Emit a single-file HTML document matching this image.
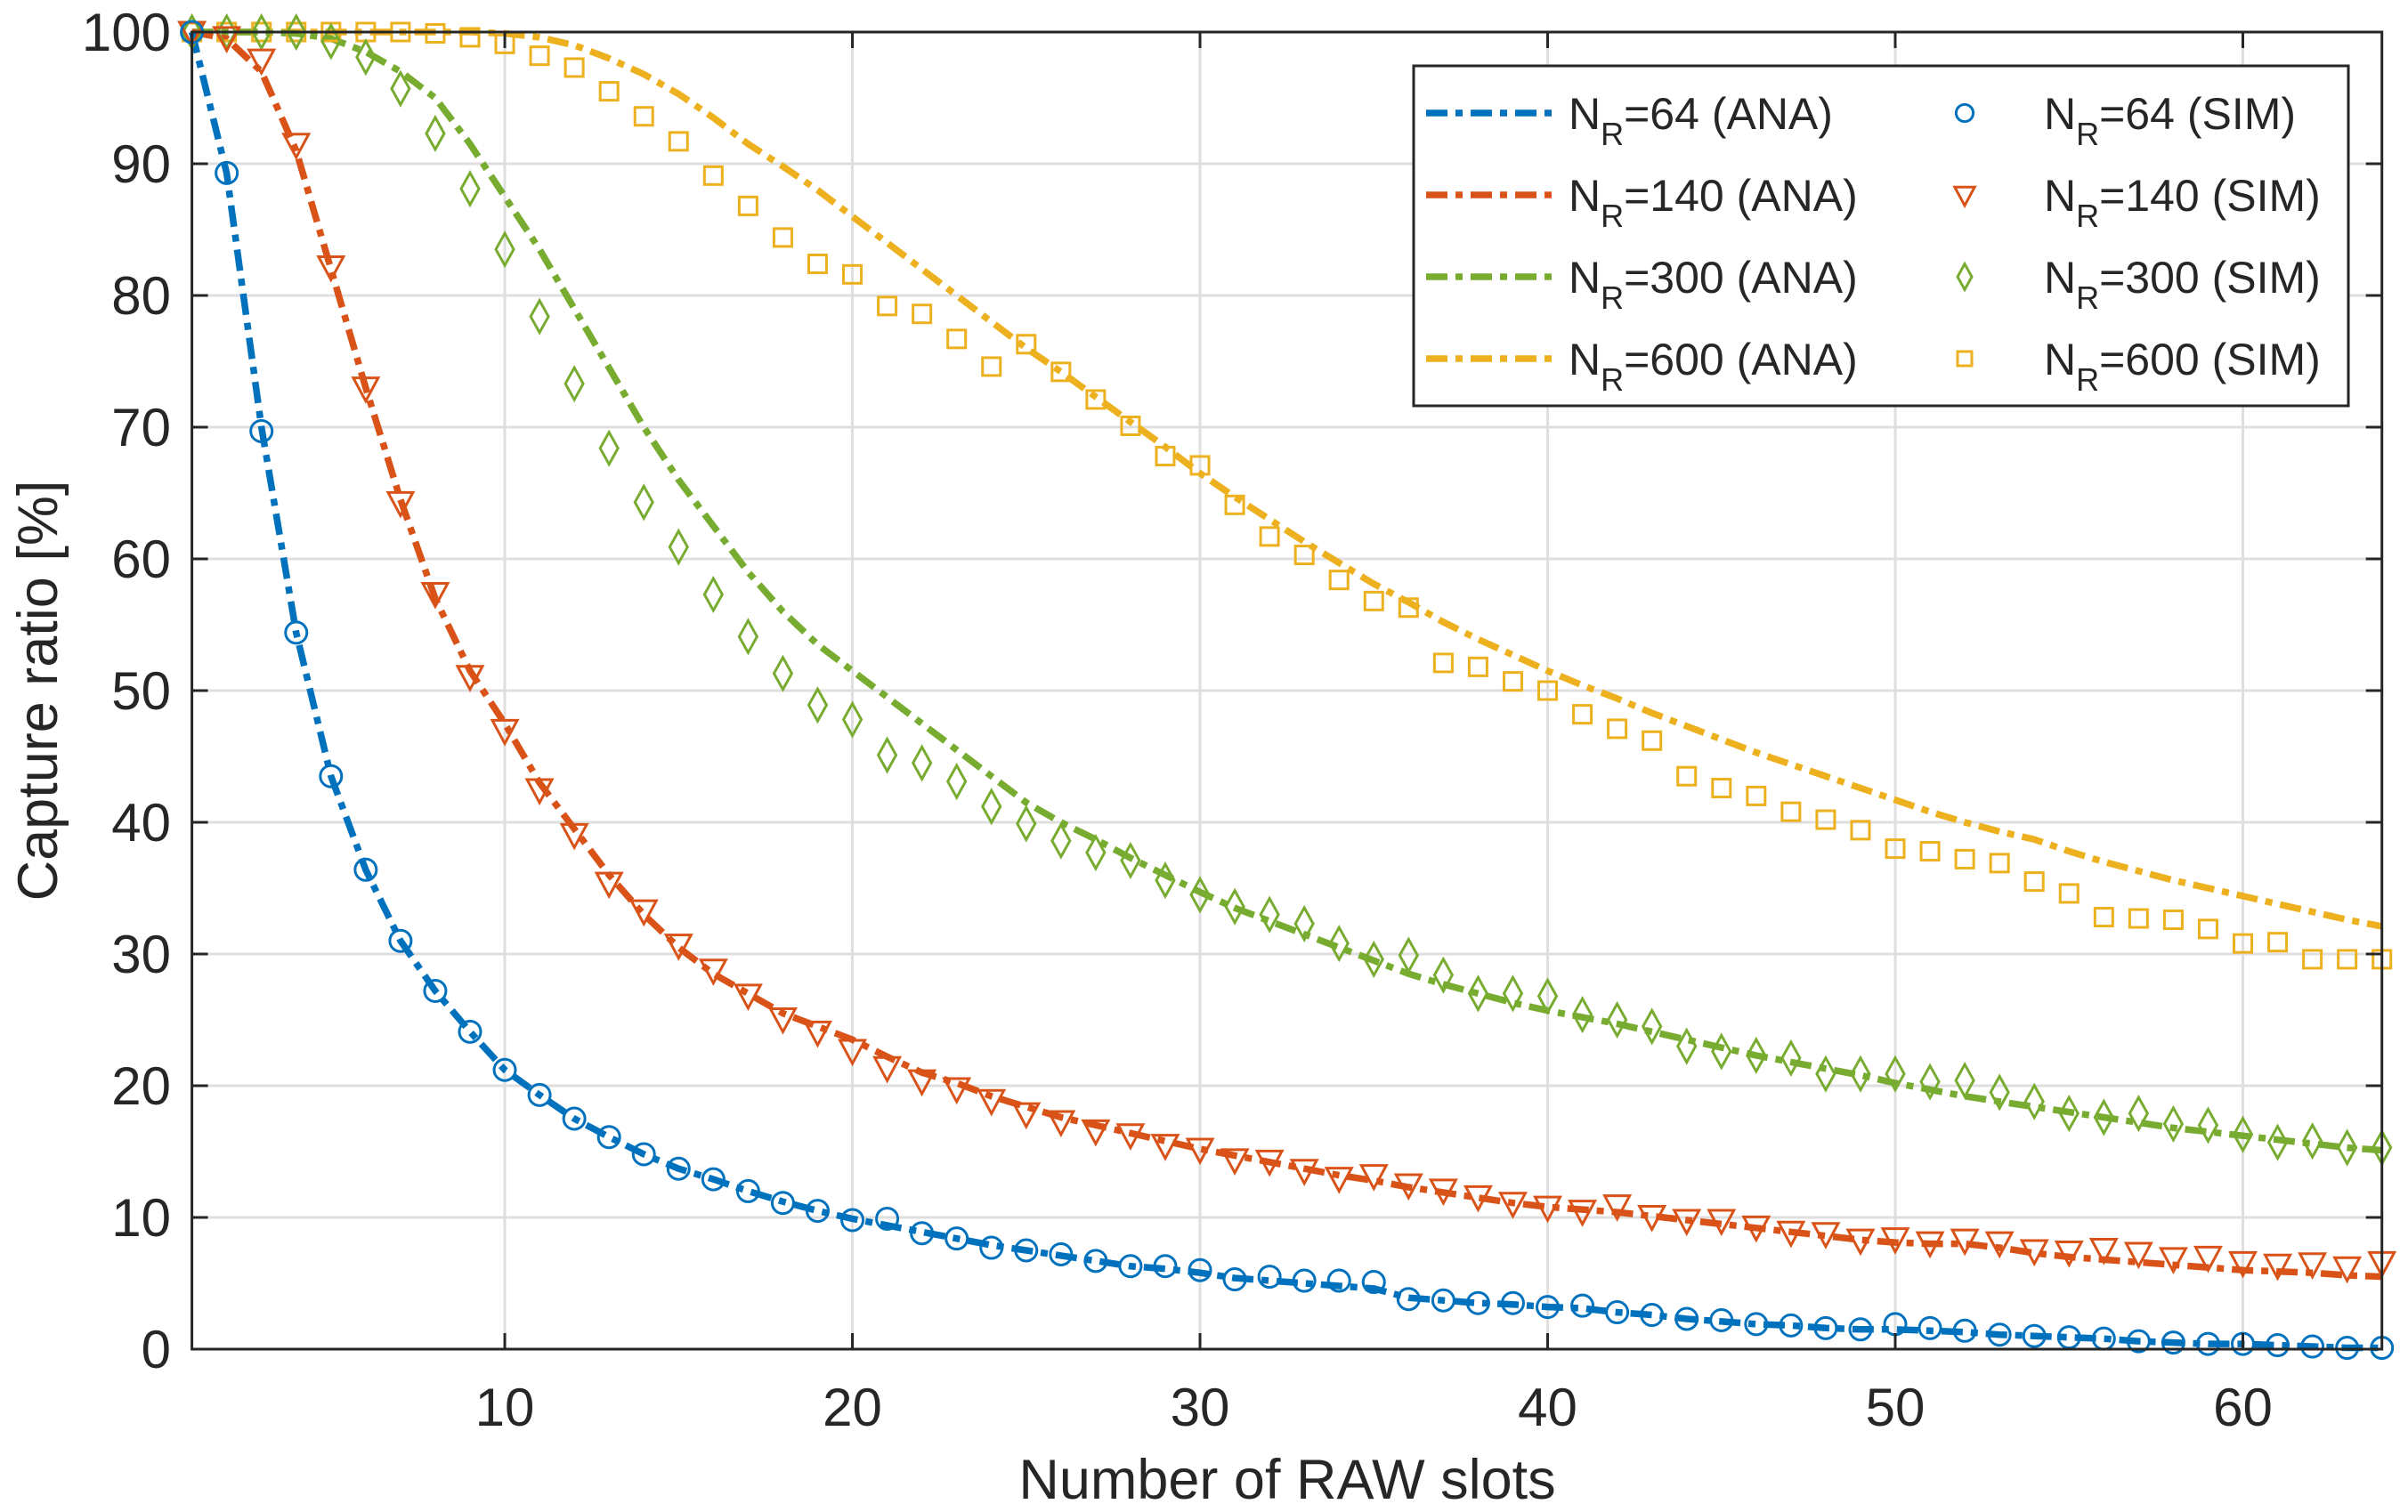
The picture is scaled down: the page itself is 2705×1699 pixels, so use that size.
<!DOCTYPE html>
<html><head><meta charset="utf-8"><style>
html,body{margin:0;padding:0;background:#fff}
svg{display:block}
text{font-family:"Liberation Sans",sans-serif;fill:#262626}
</style></head><body>
<svg id="chart" width="2705" height="1699" viewBox="0 0 2705 1699" xmlns="http://www.w3.org/2000/svg">
<rect width="2705" height="1699" fill="#fff"/>
<g id="grid"></g>
<g id="series"></g>
<g id="axes"></g>
<text x="0" y="0" font-size="63" text-anchor="middle" transform="translate(64,776) rotate(-90)">Capture ratio [%]</text>
<text x="1446" y="1684" font-size="63" text-anchor="middle">Number of RAW slots</text>
<g id="legend"></g>
</svg>
<script>
const xTicks=[10,20,30,40,50,60];
const yTicks=[0,10,20,30,40,50,60,70,80,90,100];
const seriesNames=["NR=64","NR=140","NR=300","NR=600"];
const sim64=[100,89.3,69.7,54.4,43.5,36.4,31,27.2,24.1,21.2,19.3,17.5,16.1,14.8,13.7,12.9,12,11.1,10.5,9.8,9.9,8.8,8.4,7.7,7.5,7.2,6.7,6.3,6.3,6,5.3,5.5,5.2,5.2,5.1,3.8,3.7,3.5,3.5,3.2,3.3,2.8,2.6,2.3,2.2,1.9,1.8,1.6,1.5,1.9,1.6,1.4,1.1,1,0.9,0.8,0.6,0.5,0.4,0.4,0.3,0.2,0.1,0.1];
const ana64=[100,89.3,70,54.4,43.5,36.4,31,27.2,24.1,21.2,19.3,17.5,16.1,14.8,13.7,12.9,12,11.2,10.5,9.9,9.4,8.9,8.4,7.9,7.5,7.1,6.7,6.3,6.1,5.8,5.4,5.2,5.0,4.8,4.6,3.9,3.7,3.5,3.4,3.2,3.1,2.8,2.6,2.3,2.1,1.9,1.8,1.6,1.5,1.5,1.4,1.3,1.1,1.0,0.9,0.8,0.6,0.5,0.4,0.4,0.3,0.2,0.1,0.1];
const sim140=[100,99.6,97.9,91.5,82.2,73,64.3,57.4,51.1,47,42.5,39.1,35.4,33.3,30.7,28.8,26.9,25.1,24.1,22.7,21.4,20.4,19.8,18.9,17.9,17.3,16.6,16.3,15.5,15.2,14.4,14.3,13.6,13,13.2,12.5,12.1,11.6,11.1,10.8,10.5,10.9,10.1,9.8,9.8,9.3,8.9,8.8,8.3,8.4,8.1,8.3,8.1,7.5,7.4,7.6,7.3,6.9,7,6.6,6.4,6.5,6.2,6.6];
const ana140=[100,99.5,97,91,82,73,64.5,57,51.5,47.5,43,39.5,36,33,30.5,28.5,27,25.5,24.5,23.5,22.2,21,20.2,19.2,18.4,17.6,17,16.4,15.8,15.2,14.7,14.2,13.7,13.2,12.8,12.3,11.9,11.5,11.1,10.8,10.6,10.4,10.1,9.8,9.5,9.2,8.9,8.6,8.3,8.1,8,8,7.7,7.3,7,6.8,6.6,6.4,6.2,6,5.9,5.8,5.6,5.5];
const sim300=[100,100,100,100,99.3,98.1,95.7,92.3,88.1,83.5,78.4,73.3,68.4,64.3,60.9,57.3,54.1,51.3,48.9,47.8,45.1,44.5,43.1,41.2,39.9,38.6,37.7,37.1,35.6,34.5,33.6,33,32.3,30.8,29.6,29.9,28.4,27,27,26.8,25.4,25,24.5,23,22.6,22.3,22.1,20.9,20.9,20.9,20.3,20.4,19.5,18.8,17.9,17.6,17.9,17.1,17,16.3,15.7,15.8,15.3,15.3];
const ana300=[100,100,100,99.9,99.5,98.5,97,95,91.5,87.5,83.5,79,74.5,70,66,62.5,59,56,53.5,51.5,49.5,47.5,45.5,43.5,41.5,40,38.7,37.3,36,34.7,33.5,32.5,31.5,30.5,29.5,28.5,27.7,27,26.3,25.7,25.2,24.7,24.1,23.5,22.9,22.3,21.8,21.3,20.8,20.2,19.7,19.2,18.8,18.4,18,17.6,17.2,16.8,16.5,16.2,15.9,15.6,15.3,15.1];
const sim600=[100,100,100,100,100,100,100,99.9,99.6,99.1,98.2,97.3,95.5,93.6,91.7,89.1,86.8,84.4,82.4,81.6,79.2,78.6,76.7,74.6,76.3,74.2,72.1,70.1,67.8,67.1,64.1,61.7,60.3,58.4,56.8,56.3,52.1,51.8,50.7,50,48.2,47.1,46.2,43.5,42.6,42,40.8,40.2,39.4,38,37.8,37.2,36.9,35.5,34.6,32.8,32.7,32.6,31.9,30.8,30.9,29.6,29.6,29.6];
const ana600=[100,100,100,100,100,100,100,100,100,99.9,99.6,99,98,96.8,95.3,93.5,91.5,89.8,88,86,84,82,80,78,76,74.2,72.3,70.4,68.5,66.5,64.7,63,61.3,59.7,58.1,56.7,55.2,53.9,52.7,51.5,50.4,49.4,48.3,47.3,46.3,45.3,44.4,43.5,42.6,41.7,40.8,40,39.3,38.7,37.8,37,36.3,35.6,35,34.4,33.8,33.2,32.6,32.1];

const NS="http://www.w3.org/2000/svg";
const L=215.6,R=2675.7,T=36,B=1516;
const xs=v=>L+(v-1)*(R-L)/63;
const ys=v=>B-v*(B-T)/100;
function mk(tag,parent,attrs){const e=document.createElementNS(NS,tag);for(const k in attrs)e.setAttribute(k,attrs[k]);parent.appendChild(e);return e;}
const grid=document.getElementById('grid'),axes=document.getElementById('axes'),ser=document.getElementById('series'),leg=document.getElementById('legend');
xTicks.forEach(t=>{
  const g=mk('line',grid,{x1:xs(t),x2:xs(t),y1:T,y2:B,stroke:'#dfdfdf','stroke-width':3});
  
  
  mk('line',axes,{x1:xs(t),x2:xs(t),y1:B,y2:B-18,stroke:'#262626','stroke-width':3});
  mk('line',axes,{x1:xs(t),x2:xs(t),y1:T,y2:T+18,stroke:'#262626','stroke-width':3});
  const tx=mk('text',axes,{x:xs(t),y:1602,'font-size':60,'text-anchor':'middle'});tx.textContent=t;
  
  
});
yTicks.forEach(t=>{
  const g=mk('line',grid,{x1:L,x2:R,y1:ys(t),y2:ys(t),stroke:'#dfdfdf','stroke-width':3});
  
  
  mk('line',axes,{x1:L,x2:L+18,y1:ys(t),y2:ys(t),stroke:'#262626','stroke-width':3});
  mk('line',axes,{x1:R,x2:R-18,y1:ys(t),y2:ys(t),stroke:'#262626','stroke-width':3});
  const tx=mk('text',axes,{x:192,y:ys(t)+21,'font-size':60,'text-anchor':'end'});tx.textContent=t;
  
  
});
mk('rect',axes,{x:L,y:T,width:R-L,height:B-T,fill:'none',stroke:'#262626','stroke-width':3});
const colors=['#0072BD','#D95319','#77AC30','#EDB120'];
const markers=['circle','tri','diamond','square'];
function marker(parent,type,cx,cy,c,s){
  s=s||1;let e;
  const st={fill:'none',stroke:c,'stroke-width':3};
  if(type==='circle')e=mk('circle',parent,Object.assign({cx:cx,cy:cy,r:12*s},st));
  else if(type==='tri')e=mk('polygon',parent,Object.assign({points:`${cx-14*s},${cy-11*s} ${cx+14*s},${cy-11*s} ${cx},${cy+15*s}`},st));
  else if(type==='diamond')e=mk('polygon',parent,Object.assign({points:`${cx},${cy-18*s} ${cx+10*s},${cy} ${cx},${cy+18*s} ${cx-10*s},${cy}`},st));
  else e=mk('rect',parent,Object.assign({x:cx-10*s,y:cy-10*s,width:20*s,height:20*s},st));
  return e;
}
const ana=[ana64,ana140,ana300,ana600],sim=[sim64,sim140,sim300,sim600];
const dash='24 9 8 9';
for(let k=3;k>=0;k--){
  const d=ana[k].map((v,i)=>(i?'L':'M')+xs(i+1).toFixed(1)+','+ys(v).toFixed(1)).join('');
  const p=mk('path',ser,{d:d,fill:'none',stroke:colors[k],'stroke-width':7.5,'stroke-dasharray':dash});
  
  
}
for(let k=3;k>=0;k--){
  sim[k].forEach((v,i)=>{
    const m=marker(ser,markers[k],xs(i+1),ys(v),colors[k]);
    
    
  });
}
const box=mk('rect',leg,{x:1588,y:74,width:1050,height:382,fill:'#fff',stroke:'#262626','stroke-width':3});


const rowsY=[127,219,311,403];
const labels=['64','140','300','600'];
rowsY.forEach((y,k)=>{
  mk('line',leg,{x1:1602,x2:1749,y1:y,y2:y,stroke:colors[k],'stroke-width':7.5,'stroke-dasharray':dash});
  const t1=mk('text',leg,{x:1762,y:y+18,'font-size':50,fill:'#000'});
  t1.innerHTML=`N<tspan font-size="36" dy="18">R</tspan><tspan dy="-18">=${labels[k]} (ANA)</tspan>`;
  
  
  marker(leg,markers[k],2207,y,colors[k],0.8);
  const t2=mk('text',leg,{x:2296,y:y+18,'font-size':50,fill:'#000'});
  t2.innerHTML=`N<tspan font-size="36" dy="18">R</tspan><tspan dy="-18">=${labels[k]} (SIM)</tspan>`;
  
  
});
</script>
</body></html>
